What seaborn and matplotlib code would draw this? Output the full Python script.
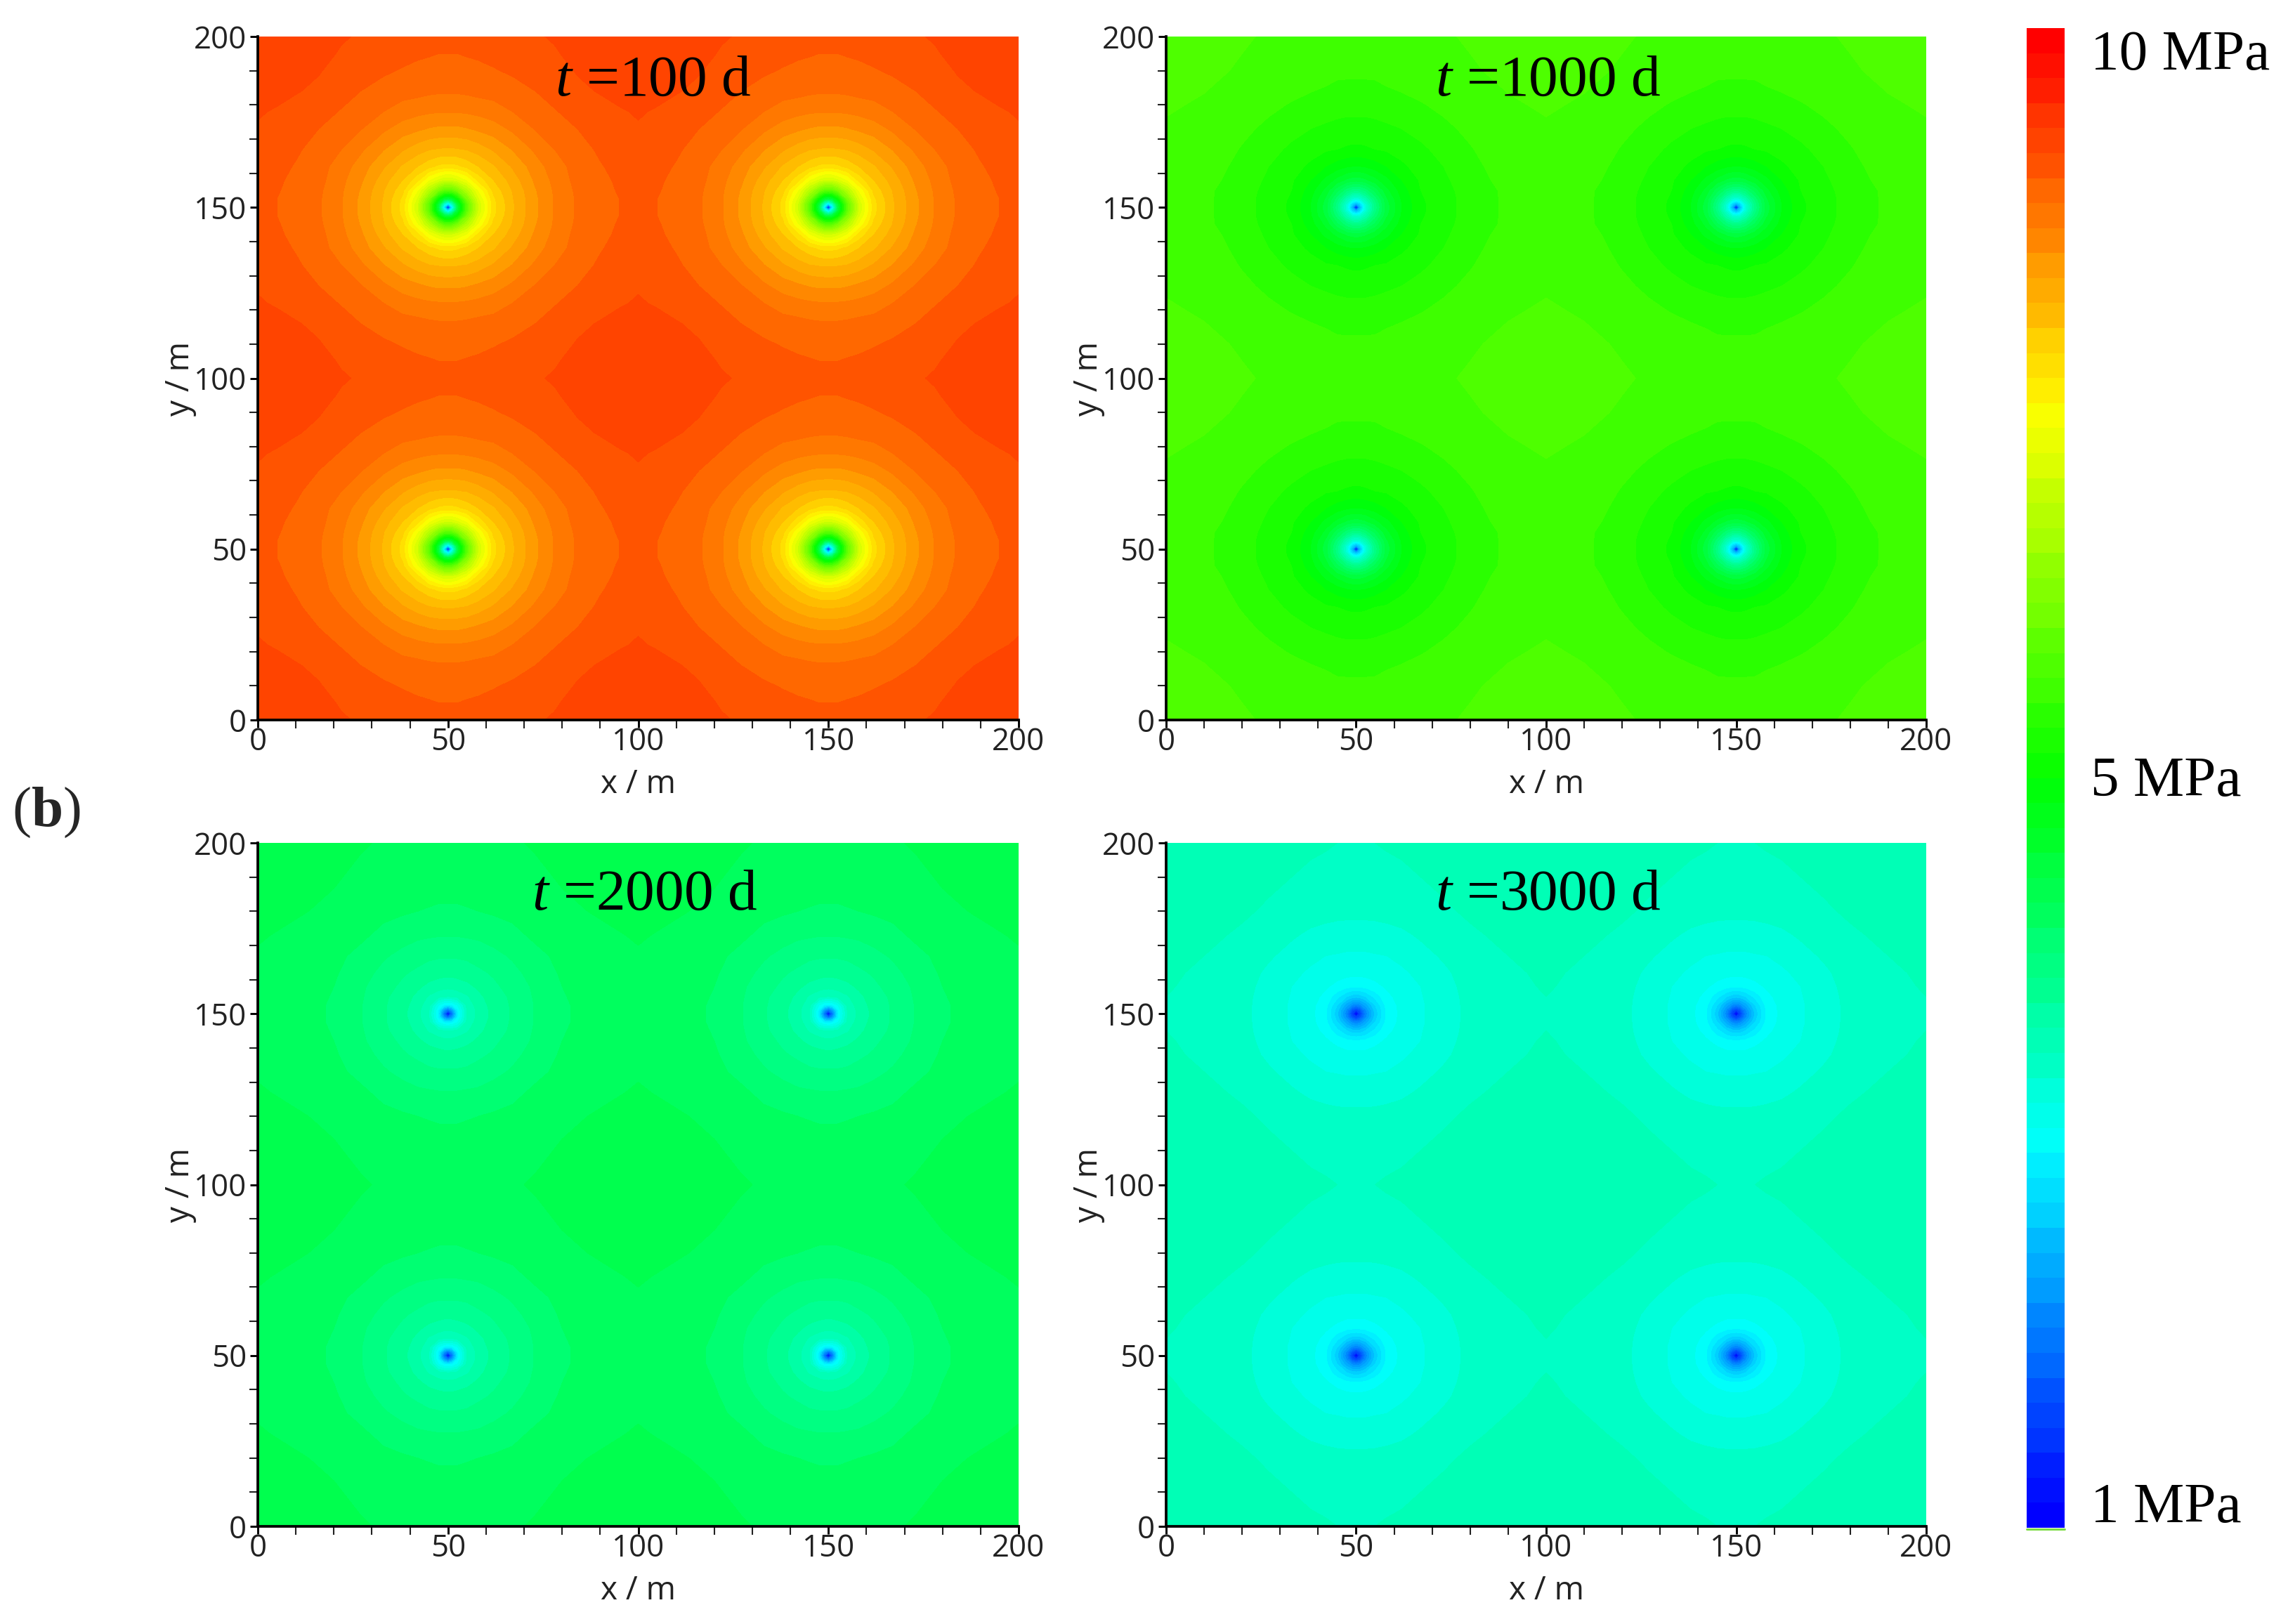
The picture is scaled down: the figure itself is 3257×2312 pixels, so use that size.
import numpy as np
import matplotlib
matplotlib.use('Agg')
import matplotlib.pyplot as plt
from matplotlib.lines import Line2D
import seaborn as sns

well_dist = [0, 1, 2.5, 5, 8, 12, 17, 23, 30, 40, 50]
well_dist_100d = [0, 1, 2.5, 5, 8, 12, 17, 23, 28, 34, 40, 45, 50]

# pressure (MPa), upper triangle of the tile, one row per distance value
p_100d = [
    [1.2, 3.0, 4.9, 6.3, 7.3, 8.0, 8.33, 8.62, 8.81, 8.97, 9.05, 9.1, 9.16],
    [3.7, 5.0, 6.3, 7.3, 8.0, 8.33, 8.62, 8.81, 8.97, 9.05, 9.1, 9.16],
    [5.5, 6.55, 7.4, 8.02, 8.34, 8.62, 8.81, 8.97, 9.05, 9.1, 9.16],
    [7.05, 7.6, 8.1, 8.36, 8.64, 8.82, 8.98, 9.06, 9.11, 9.17],
    [7.95, 8.2, 8.42, 8.68, 8.84, 9.0, 9.07, 9.12, 9.18],
    [8.33, 8.52, 8.73, 8.88, 9.01, 9.09, 9.14, 9.2],
    [8.66, 8.83, 8.95, 9.05, 9.12, 9.18, 9.22],
    [8.96, 9.03, 9.1, 9.17, 9.21, 9.24],
    [9.09, 9.15, 9.2, 9.24, 9.26],
    [9.22, 9.26, 9.28, 9.3],
    [9.3, 9.32, 9.34],
    [9.35, 9.36],
    [9.38],
]
p_1000d = [
    [1.1, 2.6, 3.6, 4.35, 4.97, 5.35, 5.62, 5.74, 5.86, 5.98, 6.04],
    [2.95, 3.65, 4.37, 4.98, 5.35, 5.62, 5.74, 5.86, 5.98, 6.04],
    [3.95, 4.5, 5.02, 5.37, 5.63, 5.74, 5.86, 5.98, 6.04],
    [4.8, 5.15, 5.42, 5.65, 5.75, 5.87, 5.98, 6.05],
    [5.3, 5.5, 5.67, 5.77, 5.89, 6.0, 6.06],
    [5.62, 5.71, 5.8, 5.91, 6.02, 6.07],
    [5.77, 5.85, 5.94, 6.04, 6.08],
    [5.92, 5.98, 6.06, 6.09],
    [6.05, 6.09, 6.11],
    [6.12, 6.13],
    [6.15],
]
p_2000d = [
    [1.05, 2.0, 3.2, 3.85, 4.05, 4.2, 4.32, 4.46, 4.58, 4.67, 4.71],
    [2.4, 3.22, 3.86, 4.05, 4.2, 4.32, 4.46, 4.58, 4.67, 4.71],
    [3.4, 3.9, 4.07, 4.21, 4.32, 4.46, 4.58, 4.67, 4.71],
    [3.98, 4.11, 4.23, 4.33, 4.47, 4.59, 4.67, 4.71],
    [4.18, 4.27, 4.36, 4.48, 4.6, 4.68, 4.72],
    [4.32, 4.41, 4.51, 4.62, 4.69, 4.73],
    [4.47, 4.56, 4.64, 4.71, 4.74],
    [4.63, 4.68, 4.73, 4.76],
    [4.73, 4.76, 4.78],
    [4.8, 4.82],
    [4.85],
]
p_3000d = [
    [1.0, 1.6, 2.25, 2.85, 3.28, 3.45, 3.53, 3.63, 3.74, 3.81, 3.84],
    [1.8, 2.3, 2.87, 3.28, 3.45, 3.53, 3.63, 3.74, 3.81, 3.84],
    [2.55, 2.95, 3.3, 3.45, 3.53, 3.63, 3.74, 3.81, 3.84],
    [3.15, 3.36, 3.46, 3.54, 3.64, 3.74, 3.81, 3.85],
    [3.42, 3.48, 3.55, 3.65, 3.75, 3.82, 3.86],
    [3.53, 3.58, 3.67, 3.77, 3.83, 3.87],
    [3.65, 3.72, 3.79, 3.85, 3.89],
    [3.78, 3.83, 3.88, 3.91],
    [3.87, 3.9, 3.93],
    [3.94, 3.96],
    [3.99],
]

panel_titles = ['100', '1000', '2000', '3000']
panel_values = [p_100d, p_1000d, p_2000d, p_3000d]
panel_dists = [well_dist_100d, well_dist, well_dist, well_dist]
bar_labels = ['10 MPa', '5 MPa', '1 MPa']
ticks_major = [0, 50, 100, 150, 200]

W, H = 3257, 2312
sns.set_theme(style='ticks')
plt.rcParams['font.family'] = ['Open Sans', 'DejaVu Sans']
plt.rcParams['mathtext.fontset'] = 'custom'
plt.rcParams['mathtext.it'] = 'Liberation Serif:italic'
plt.rcParams['mathtext.bf'] = 'Liberation Serif:bold'
plt.rcParams['mathtext.rm'] = 'Liberation Serif'

levels = np.linspace(1, 10, 61)
colors = sns.blend_palette(['#0000ff', '#00ffff', '#00ff00', '#ffff00', '#ff0000'], 60)


def px_axes(fig, left, top, right, bottom):
    return fig.add_axes([left / W, 1 - bottom / H, (right - left) / W, (bottom - top) / H])


def build_field(rows, dists):
    # the picture repeats one well tile, so mirror the tile over the 200 m square
    n = len(rows)
    tile = np.zeros((n, n))
    for i, row in enumerate(rows):
        tile[i, i:] = row
        tile[i:, i] = row
    dist = np.array(dists, dtype=float)
    one = np.r_[50 - dist[::-1], 50 + dist[1:]]
    grid = np.r_[one, 100 + one[1:]]
    idx = np.r_[np.arange(n - 1, -1, -1), np.arange(1, n)]
    idx = np.r_[idx, idx[1:]]
    return grid, tile[np.ix_(idx, idx)]


fig = plt.figure(figsize=(W / 300, H / 300), dpi=300, facecolor='white')

boxes = [(367, 52, 1450, 1025), (1660, 52, 2742, 1025),
         (367, 1200, 1450, 2173), (1660, 1200, 2742, 2173)]
title_pos = [(930, 116), (2204, 116), (918, 1275), (2204, 1275)]

for box, rows, dists, name, pos in zip(boxes, panel_values, panel_dists, panel_titles, title_pos):
    ax = px_axes(fig, *box)
    grid, field = build_field(rows, dists)
    ax.contourf(grid, grid, field, levels=levels, colors=colors)
    ax.set_xlim(0, 200)
    ax.set_ylim(0, 200)
    ax.set_xticks(ticks_major)
    ax.set_yticks(ticks_major)
    ax.set_xticks(np.arange(0, 201, 10), minor=True)
    ax.set_yticks(np.arange(0, 201, 10), minor=True)
    ax.tick_params(which='major', length=2.6, width=0.7, labelsize=10.5, pad=1.2, color='black', labelcolor='#222222')
    ax.tick_params(axis='x', which='major', pad=-0.2)
    ax.tick_params(which='minor', length=2.8, width=0.5, color='#222222')
    ax.set_xlabel('x / m', fontsize=11, labelpad=3.4, color='#222222')
    ax.set_ylabel('y / m', fontsize=11, labelpad=-1, color='#222222')
    sns.despine(ax=ax)
    for side in ['left', 'bottom']:
        ax.spines[side].set_linewidth(0.9)
        ax.spines[side].set_color('black')
    fig.text(pos[0] / W, 1 - pos[1] / H, r'$\mathit{t}$ =' + name + ' d', ha='center', va='center',
             fontsize=20, family='Liberation Serif', color='black')

# colour bar strip on the right
cax = px_axes(fig, 2885, 40, 2939, 2175)
strip = ((levels[:-1] + levels[1:]) / 2)[::-1].reshape(-1, 1)
sns.heatmap(strip, ax=cax, cmap=sns.blend_palette(colors[::-1], 60)[::-1], vmin=1, vmax=10, cbar=False,
            xticklabels=False, yticklabels=False)
cax.tick_params(left=False, bottom=False)
fig.add_artist(Line2D([2885 / W, 2939 / W], [1 - 2176.5 / H] * 2, color='#78dc3c', lw=0.7))

for lab, y in zip(bar_labels, [80, 1113, 2148]):
    fig.text(2976 / W, 1 - y / H, lab, ha='left', va='center', fontsize=19.5,
             family='Liberation Serif', color='black')

fig.text(17 / W, 1 - 1157 / H, r'($\mathbf{b}$)', ha='left', va='center', fontsize=19.5, family='Liberation Serif')

fig.savefig('out.png', dpi=300)
plt.close(fig)
